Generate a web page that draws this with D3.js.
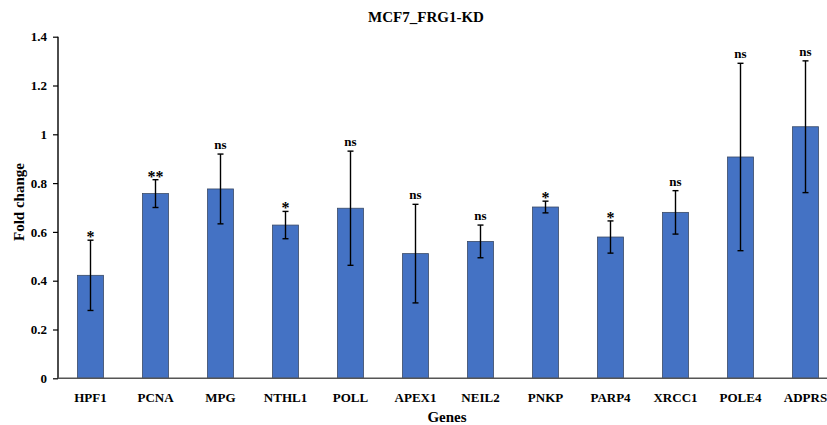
<!DOCTYPE html>
<html>
<head>
<meta charset="utf-8">
<script src="https://cdn.jsdelivr.net/npm/d3@7"></script>
<style>
  html, body { margin: 0; padding: 0; background: #fff; }
  svg { display: block; }
  text { font-family: "Liberation Serif", "Times New Roman", serif; font-weight: bold; fill: #000; }
</style>
</head>
<body>
<svg id="chart" width="827" height="425"></svg>
<script>
const genes = ["HPF1", "PCNA", "MPG", "NTHL1", "POLL", "APEX1", "NEIL2", "PNKP", "PARP4", "XRCC1", "POLE4", "ADPRS"];
const foldChange = [0.422, 0.757, 0.776, 0.628, 0.697, 0.511, 0.561, 0.702, 0.579, 0.680, 0.907, 1.031];
const errors = [0.144, 0.057, 0.143, 0.056, 0.234, 0.202, 0.067, 0.024, 0.066, 0.089, 0.384, 0.270];
const significance = ["*", "**", "ns", "*", "ns", "ns", "ns", "*", "*", "ns", "ns", "ns"];
const yTicks = [0, 0.2, 0.4, 0.6, 0.8, 1, 1.2, 1.4];

const svg = d3.select("#chart");
const mLeft = 58, mRight = 838, mTop = 36.7, mBottom = 378.3;

const x = d3.scaleBand().domain(genes).range([mLeft, mRight]).paddingInner(0.6).paddingOuter(0.3);
const y = d3.scaleLinear().domain([0, 1.4]).range([mBottom, mTop]);

const data = genes.map((g, i) => ({ gene: g, value: foldChange[i], err: errors[i], sig: significance[i] }));

// bars
svg.append("g").selectAll("rect").data(data).join("rect")
  .attr("x", d => x(d.gene))
  .attr("y", d => y(d.value))
  .attr("width", x.bandwidth())
  .attr("height", d => y(0) - y(d.value))
  .attr("fill", "#4472C4")
  .attr("stroke", "#3a4a66")
  .attr("stroke-width", 0.8);

// error bars
const eb = svg.append("g").attr("stroke", "#000").attr("stroke-width", 1.4);
data.forEach(d => {
  const cx = x(d.gene) + x.bandwidth() / 2;
  const y1 = y(d.value + d.err), y2 = y(d.value - d.err);
  eb.append("line").attr("x1", cx).attr("x2", cx).attr("y1", y1).attr("y2", y2);
  eb.append("line").attr("x1", cx - 3).attr("x2", cx + 3).attr("y1", y1).attr("y2", y1);
  eb.append("line").attr("x1", cx - 3).attr("x2", cx + 3).attr("y1", y2).attr("y2", y2);
});

// significance labels
svg.append("g").selectAll("text").data(data).join("text")
  .attr("x", d => x(d.gene) + x.bandwidth() / 2)
  .attr("y", d => y(d.value + d.err) - (d.sig === "ns" ? 5 : -2))
  .attr("text-anchor", "middle")
  .style("font-size", d => d.sig === "ns" ? "13px" : "16px")
  .text(d => d.sig);

// y axis
const yAxis = svg.append("g").attr("transform", `translate(${mLeft},0)`)
  .call(d3.axisLeft(y).tickValues(yTicks).tickSize(5).tickPadding(6).tickFormat(d => d3.format("~g")(d)));
yAxis.select(".domain").attr("stroke", "#000").attr("stroke-width", 1.4).attr("d", `M0,${mTop}V${mBottom}`);
yAxis.selectAll(".tick line").attr("stroke", "#000").attr("stroke-width", 1.2);
yAxis.selectAll(".tick text").style("font-size", "13px").style("font-family", "Liberation Serif, serif").style("font-weight", "bold").attr("fill", "#000");

// x axis
const xAxis = svg.append("g").attr("transform", `translate(0,${mBottom})`)
  .call(d3.axisBottom(x).tickSize(0).tickPadding(14));
xAxis.select(".domain").attr("stroke", "#555").attr("stroke-width", 1.6).attr("d", `M${mLeft},0H${mRight}`);
xAxis.selectAll(".tick text").style("font-size", "13px").style("font-family", "Liberation Serif, serif").style("font-weight", "bold").attr("fill", "#000");

// titles
svg.append("text").attr("x", 426).attr("y", 22).attr("text-anchor", "middle").style("font-size", "15px").text("MCF7_FRG1-KD");
svg.append("text").attr("x", 447).attr("y", 422).attr("text-anchor", "middle").style("font-size", "15px").text("Genes");
svg.append("text").attr("transform", "translate(24,202) rotate(-90)").attr("text-anchor", "middle").style("font-size", "15px").text("Fold change");
</script>
</body>
</html>
